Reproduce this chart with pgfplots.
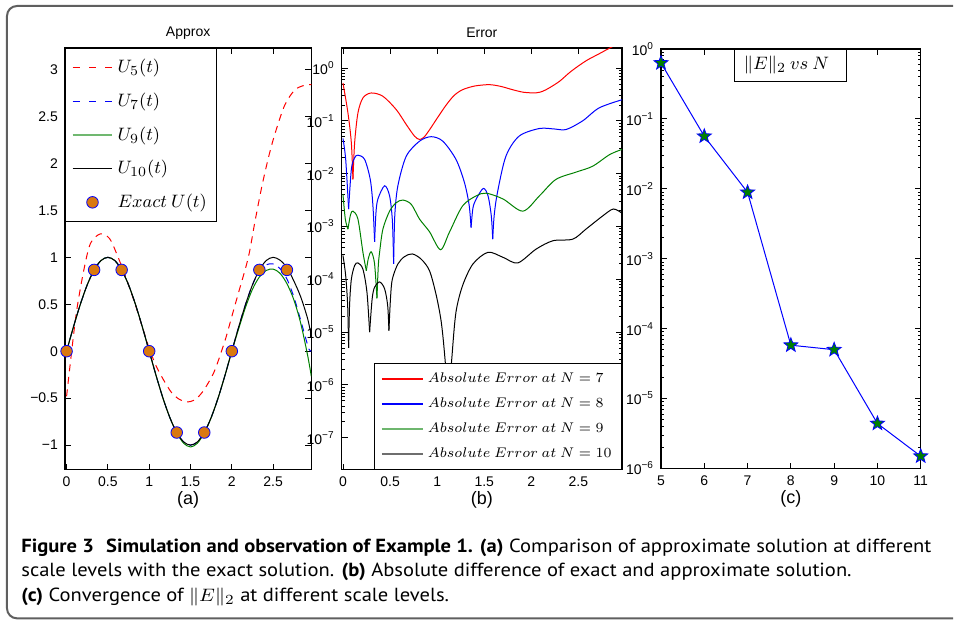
\documentclass[border=0pt]{standalone}
\usepackage{fontspec}
\setmainfont{Liberation Sans}
\newfontfamily\capfont{PT Sans}
\usepackage{graphicx}
\usepackage{pgfplots}
\pgfplotsset{compat=1.18}

\definecolor{mgreen}{rgb}{0,0.5,0}
\definecolor{lgreen}{RGB}{112,184,112}
\definecolor{lgreenb}{RGB}{110,182,110}
\definecolor{morange}{RGB}{217,120,15}
\definecolor{framegray}{RGB}{95,95,95}
% own shades for the legend samples
\definecolor{legredA}{RGB}{250,2,2}
\definecolor{legblueA}{RGB}{2,2,250}
\definecolor{legblackA}{RGB}{3,3,3}
\definecolor{legredB}{RGB}{252,1,1}
\definecolor{legblueB}{RGB}{1,1,252}
\definecolor{leggrayB}{RGB}{110,110,110}

% filled five-point star (MATLAB pentagram)
\pgfdeclareplotmark{pstar}{%
  \pgfpathmoveto{\pgfpointpolar{90}{\pgfplotmarksize}}%
  \pgfpathlineto{\pgfpointpolar{126}{0.42\pgfplotmarksize}}%
  \pgfpathlineto{\pgfpointpolar{162}{\pgfplotmarksize}}%
  \pgfpathlineto{\pgfpointpolar{198}{0.42\pgfplotmarksize}}%
  \pgfpathlineto{\pgfpointpolar{234}{\pgfplotmarksize}}%
  \pgfpathlineto{\pgfpointpolar{270}{0.42\pgfplotmarksize}}%
  \pgfpathlineto{\pgfpointpolar{306}{\pgfplotmarksize}}%
  \pgfpathlineto{\pgfpointpolar{342}{0.42\pgfplotmarksize}}%
  \pgfpathlineto{\pgfpointpolar{18}{\pgfplotmarksize}}%
  \pgfpathlineto{\pgfpointpolar{54}{0.42\pgfplotmarksize}}%
  \pgfpathclose
  \pgfusepathqfillstroke}

\pgfplotsset{
  mlab/.style={
    scale only axis,
    tick align=inside,
    major tick length=3pt, minor tick length=1.6pt,
    tick style={black, line width=0.4pt},
    axis line style={line width=0.6pt},
    tick label style={font=\fontsize{7}{8}\selectfont},
    every axis title/.style={at={(0.5,1)}, anchor=center, yshift=7.5pt, font=\fontsize{7}{8}\selectfont},
    every axis x label/.style={at={(0.5,0)}, anchor=center, yshift=-15pt, font=\fontsize{9}{10}\selectfont},
    clip mode=individual,
    legend cell align=left,
  },
  dashlegend/.style={legend image code/.code={\draw[##1] (0pt,0pt) -- (3.5pt,0pt) (8.25pt,0pt) -- (11.75pt,0pt) (16.5pt,0pt) -- (20pt,0pt);}},
}

\newsavebox\capbox
\newlength\capw

\begin{document}%
\sbox\capbox{\capfont\fontsize{9.5}{11}\selectfont\bfseries Figure 3\hspace{0.6em}Simulation and observation of Example 1. (a)\mdseries{} Comparison of approximate solution at different}%
\setlength\capw{\wd\capbox}%
\pgfmathsetmacro\capscale{455.5/\capw}%
\begin{tikzpicture}
\path (0,0) rectangle (477pt,310.5pt);
\draw[framegray, line width=1pt, rounded corners=5pt] (477pt,307.5pt) -- (3.5pt,307.5pt) -- (3.5pt,1pt) -- (477pt,1pt);

% ---------------- (a) Approx ----------------
\begin{axis}[mlab,
  at={(32.5pt,75.5pt)}, anchor=south west,
  width=123.35pt, height=211pt,
  xmin=-0.02, xmax=2.963, ymin=-1.26, ymax=3.23,
  xtick={0,0.5,1,1.5,2,2.5}, xticklabels={0,0.5,1,1.5,2,2.5},
  ytick={-1,-0.5,0,0.5,1,1.5,2,2.5,3},
  yticklabels={−1,−0.5,0,0.5,1,1.5,2,2.5,3},
  title={Approx}, xlabel={(a)},
  legend style={at={(0,1)}, anchor=north west, line width=0.5pt,
    font=\fontsize{9.4}{11}\selectfont, row sep=4.6pt, inner xsep=3pt, inner ysep=3.5pt},
  legend image code/.code={\draw[mark repeat=2,mark phase=2,#1] plot coordinates {(0pt,0pt) (10pt,0pt) (20pt,0pt)};},
]
\addplot[red, line width=0.5pt, dash pattern=on 3.5pt off 2.8pt, smooth, forget plot] coordinates {
 (0,-0.48) (0.05,-0.09) (0.12,0.42) (0.21,0.87) (0.29,1.15) (0.41,1.25) (0.52,1.2)
 (0.61,1.03) (0.72,0.78) (0.83,0.50) (0.92,0.25) (1.0,0.03) (1.08,-0.15) (1.17,-0.3)
 (1.27,-0.44) (1.36,-0.51) (1.45,-0.54) (1.55,-0.52) (1.64,-0.44) (1.72,-0.33)
 (1.80,-0.19) (1.92,0.12) (2.0,0.37) (2.08,0.62) (2.2,1.0) (2.28,1.38) (2.36,1.74)
 (2.44,2.05) (2.52,2.31) (2.64,2.62) (2.76,2.78) (2.87,2.83) (2.963,2.84)};
\addplot[blue, line width=0.5pt, dash pattern=on 3.5pt off 2.8pt, smooth, forget plot] coordinates {
 (0,0) (0.0833,0.259) (0.1667,0.5) (0.25,0.707) (0.3333,0.866) (0.4167,0.966) (0.5,1)
 (0.5833,0.966) (0.6667,0.866) (0.75,0.707) (0.8333,0.5) (0.9167,0.259) (1,0)
 (1.0833,-0.259) (1.1667,-0.5) (1.25,-0.707) (1.3333,-0.866) (1.4167,-0.966) (1.5,-1)
 (1.5833,-0.966) (1.6667,-0.866) (1.75,-0.707) (1.8333,-0.5) (1.9167,-0.259) (2,0)
 (2.0833,0.259) (2.1667,0.5) (2.25,0.707) (2.3333,0.85) (2.4167,0.92) (2.5,0.93)
 (2.5833,0.88) (2.6667,0.77) (2.75,0.58) (2.8333,0.33) (2.9,0.12) (2.935,0.02) (2.963,0.0)};
\addplot[mgreen, line width=0.5pt, smooth, forget plot] coordinates {
 (0,0) (0.0833,0.259) (0.1667,0.5) (0.25,0.707) (0.3333,0.866) (0.4167,0.966) (0.5,1)
 (0.5833,0.966) (0.6667,0.866) (0.75,0.707) (0.8333,0.5) (0.9167,0.259) (1,0)
 (1.0833,-0.259) (1.1667,-0.5) (1.25,-0.707) (1.3333,-0.87) (1.4167,-0.98) (1.5,-1.02)
 (1.5833,-0.98) (1.6667,-0.87) (1.75,-0.707) (1.8333,-0.5) (1.9167,-0.259) (2,0)
 (2.0833,0.24) (2.1667,0.47) (2.25,0.66) (2.3333,0.79) (2.4167,0.86) (2.5,0.875)
 (2.5833,0.83) (2.6667,0.72) (2.75,0.55) (2.8333,0.30) (2.9167,-0.04) (2.963,-0.27)};
\addplot[black, line width=0.5pt, smooth, forget plot] coordinates {
 (0,0) (0.0833,0.259) (0.1667,0.5) (0.25,0.707) (0.3333,0.866) (0.4167,0.966) (0.5,1)
 (0.5833,0.966) (0.6667,0.866) (0.75,0.707) (0.8333,0.5) (0.9167,0.259) (1,0)
 (1.0833,-0.259) (1.1667,-0.5) (1.25,-0.707) (1.3333,-0.866) (1.4167,-0.966) (1.5,-1)
 (1.5833,-0.966) (1.6667,-0.866) (1.75,-0.707) (1.8333,-0.5) (1.9167,-0.259) (2,0)
 (2.0833,0.259) (2.1667,0.5) (2.25,0.707) (2.3333,0.866) (2.4167,0.966) (2.5,1)
 (2.5833,0.97) (2.6667,0.89) (2.75,0.75) (2.8333,0.58) (2.9167,0.35) (2.963,0.16)};
\addplot[only marks, mark=*, mark size=2.9pt, mark options={fill=morange, draw=blue, line width=0.4pt}, forget plot] coordinates {
 (0,0) (0.3333,0.866) (0.6667,0.866) (1,0) (1.3333,-0.866) (1.6667,-0.866) (2,0) (2.3333,0.866) (2.6667,0.866)};
\addlegendimage{dashlegend, draw=legredA, line width=0.8pt}
\addlegendentry{$U_5(t)$}
\addlegendimage{dashlegend, draw=legblueA, line width=0.8pt}
\addlegendentry{$U_7(t)$}
\addlegendimage{draw=lgreen, line width=1.1pt}
\addlegendentry{$U_9(t)$}
\addlegendimage{draw=legblackA, line width=0.6pt}
\addlegendentry{$U_{10}(t)$}
\addlegendimage{only marks, mark=*, mark size=2.9pt, mark options={fill=morange, draw=blue, line width=0.4pt}}
\addlegendentry{$Exact\:U(t)$}
\end{axis}

% ---------------- (b) Error ----------------
\begin{axis}[mlab,
  at={(171pt,75.5pt)}, anchor=south west,
  width=140.35pt, height=211pt,
  ymode=log,
  xmin=-0.014, xmax=2.963, ymin=2.5e-8, ymax=2.4,
  xtick={0,0.5,1,1.5,2,2.5}, xticklabels={0,0.5,1,1.5,2,2.5},
  ytick={1e-7,1e-6,1e-5,1e-4,1e-3,1e-2,1e-1,1},
  yticklabels={10\textsuperscript{−7},10\textsuperscript{−6},10\textsuperscript{−5},10\textsuperscript{−4},10\textsuperscript{−3},10\textsuperscript{−2},10\textsuperscript{−1},10\textsuperscript{0}},
  title={Error}, xlabel={(b)},
  legend style={at={(1,0)}, anchor=south east, line width=0.5pt,
    font=\fontsize{7.2}{8.5}\selectfont, row sep=2.1pt, inner xsep=3pt, inner ysep=2.5pt},
  legend image code/.code={\draw[#1] (0pt,0pt) -- (20.5pt,0pt);},
]
% N = 7
\addplot[red, line width=0.5pt, smooth, forget plot] coordinates {
 (0,0.521) (0.053,0.141) (0.089,0.0385) (0.106,0.00776)};
\addplot[red, line width=0.5pt, smooth, forget plot] coordinates {
 (0.106,0.00776) (0.124,0.0385) (0.159,0.141) (0.212,0.272) (0.30,0.337) (0.424,0.292)
 (0.566,0.163) (0.672,0.0851) (0.76,0.0513) (0.813,0.0444) (0.86,0.049) (0.919,0.0676)
 (1.0,0.112) (1.096,0.1995) (1.18,0.302) (1.27,0.389) (1.4,0.457) (1.556,0.484)
 (1.68,0.447) (1.80,0.389) (1.92,0.347) (2.05,0.339) (2.12,0.363) (2.19,0.42)
 (2.30,0.562) (2.40,0.805) (2.50,1.096) (2.60,1.436) (2.72,1.862) (2.83,2.38) (2.963,3.162)};
% N = 8
\addplot[blue, line width=0.5pt, smooth, forget plot] coordinates {
 (0,0.0463) (0.029,0.0186) (0.06,0.00214)};
\addplot[blue, line width=0.5pt, smooth, forget plot] coordinates {
 (0.06,0.00214) (0.089,0.012) (0.124,0.02) (0.159,0.0224) (0.23,0.0186) (0.29,0.00776)
 (0.318,0.00251) (0.336,5.13e-4)};
\addplot[blue, line width=0.5pt, smooth, forget plot] coordinates {
 (0.336,5.13e-4) (0.35,0.00178) (0.371,0.00331) (0.442,0.00589) (0.495,0.0038)
 (0.525,0.00126) (0.538,1.95e-4)};
\addplot[blue, line width=0.5pt, smooth, forget plot] coordinates {
 (0.538,1.95e-4) (0.55,0.00158) (0.583,0.00589) (0.672,0.0214) (0.813,0.0412)
 (0.937,0.0501) (1.06,0.0412) (1.20,0.0186) (1.29,0.00676) (1.34,0.00251) (1.36,9.55e-4)};
\addplot[blue, line width=0.5pt, smooth, forget plot] coordinates {
 (1.36,9.55e-4) (1.38,0.00224) (1.415,0.00331) (1.49,0.00525) (1.54,0.0038)
 (1.575,0.00158) (1.59,5.75e-4)};
\addplot[blue, line width=0.5pt, smooth, forget plot] coordinates {
 (1.59,5.75e-4) (1.605,0.00158) (1.64,0.00437) (1.73,0.0214) (1.87,0.0513)
 (2.086,0.0716) (2.25,0.0700) (2.37,0.0686) (2.545,0.1) (2.72,0.176) (2.963,0.251)};
% N = 9
\addplot[mgreen, line width=0.5pt, smooth, forget plot] coordinates {
 (0,0.00407) (0.025,0.00138) (0.053,8.91e-4)};
\addplot[mgreen, line width=0.5pt, smooth, forget plot] coordinates {
 (0.053,8.91e-4) (0.08,0.00166) (0.106,0.00195) (0.159,0.00138) (0.212,3.24e-4) (0.248,1.45e-4)};
\addplot[mgreen, line width=0.5pt, smooth, forget plot] coordinates {
 (0.248,1.45e-4) (0.27,2.51e-4) (0.30,3.31e-4) (0.335,2.0e-4) (0.361,4.37e-5)};
\addplot[mgreen, line width=0.5pt, smooth, forget plot] coordinates {
 (0.361,4.37e-5) (0.375,1.78e-4) (0.389,3.24e-4) (0.424,8.91e-4) (0.495,0.00195)
 (0.566,0.00282) (0.636,0.00316) (0.725,0.00263) (0.813,0.00138) (0.919,7.94e-4)
 (1.036,3.63e-4) (1.13,7.76e-4) (1.27,0.00245) (1.415,0.0038) (1.52,0.00427)
 (1.70,0.00331) (1.91,0.00195) (2.086,0.0038) (2.26,0.00776) (2.475,0.0107)
 (2.65,0.0138) (2.83,0.0229) (2.963,0.0288)};
% N = 10
\addplot[black, line width=0.5pt, smooth, forget plot] coordinates {
 (0,2.82e-4) (0.029,1.17e-4) (0.05,3.16e-5) (0.06,5.01e-6)};
\addplot[black, line width=0.5pt, smooth, forget plot] coordinates {
 (0.06,5.01e-6) (0.07,3.16e-5) (0.089,1e-4) (0.124,1.82e-4) (0.159,2.04e-4)
 (0.212,1.55e-4) (0.255,5.62e-5) (0.283,1e-5)};
\addplot[black, line width=0.5pt, smooth, forget plot] coordinates {
 (0.283,1e-5) (0.31,4.27e-5) (0.336,7.08e-5) (0.389,8.91e-5) (0.442,6.61e-5)
 (0.475,3.16e-5) (0.488,1.07e-5)};
\addplot[black, line width=0.5pt, smooth, forget plot] coordinates {
 (0.488,1.07e-5) (0.505,4.47e-5) (0.524,1e-4) (0.583,1.95e-4) (0.654,2.69e-4)
 (0.736,3.02e-4) (0.831,2.4e-4) (0.919,1.45e-4) (0.99,5.01e-5) (1.043,1.58e-5)
 (1.078,3.98e-6) (1.10,1e-6) (1.115,3.16e-8) (1.12,1e-9)};
\addplot[black, line width=0.5pt, smooth, forget plot] coordinates {
 (1.12,1e-9) (1.125,3.16e-8) (1.14,1e-6) (1.16,3.98e-6) (1.20,2.4e-5) (1.27,7.59e-5)
 (1.38,1.95e-4) (1.54,3.24e-4) (1.70,2.6e-4) (1.856,2.04e-4) (2.05,3.72e-4)
 (2.23,5.37e-4) (2.44,5.75e-4) (2.58,8.91e-4) (2.757,0.00158) (2.87,0.00214) (2.963,0.00178)};
\addlegendimage{draw=legredB, line width=0.7pt}
\addlegendentry{$Absolute\:Error\:at\:N=7$}
\addlegendimage{draw=legblueB, line width=0.7pt}
\addlegendentry{$Absolute\:Error\:at\:N=8$}
\addlegendimage{draw=lgreenb, line width=0.8pt}
\addlegendentry{$Absolute\:Error\:at\:N=9$}
\addlegendimage{draw=leggrayB, line width=1pt}
\addlegendentry{$Absolute\:Error\:at\:N=10$}
\end{axis}

% ---------------- (c) ||E||_2 vs N ----------------
\begin{axis}[mlab,
  at={(330.85pt,76pt)}, anchor=south west,
  width=130pt, height=210pt,
  ymode=log,
  xmin=5, xmax=11, ymin=1e-6, ymax=1,
  xtick={5,6,7,8,9,10,11}, xticklabels={5,6,7,8,9,10,11},
  ytick={1e-6,1e-5,1e-4,1e-3,1e-2,1e-1,1},
  yticklabels={10\textsuperscript{−6},10\textsuperscript{−5},10\textsuperscript{−4},10\textsuperscript{−3},10\textsuperscript{−2},10\textsuperscript{−1},10\textsuperscript{0}},
  xlabel={(c)},
]
\addplot[blue, line width=0.5pt, mark=pstar, mark size=3.7pt, mark options={fill=mgreen, draw=blue, line width=0.4pt}] coordinates {
 (5,0.63) (6,0.0564) (7,0.0089) (8,5.8e-5) (9,5.0e-5) (10,4.4e-6) (11,1.5e-6)};
\node[draw=black, line width=0.5pt, fill=white, anchor=north, minimum height=16pt,
  text width=47pt, inner xsep=4.5pt, align=left, font=\fontsize{9.5}{11}\selectfont]
  at (rel axis cs:0.5,1) {$\|E\|_2\:vs\:N$};
\end{axis}

% ---------------- caption ----------------
\begin{scope}[every node/.style={anchor=base west, inner sep=0pt, font=\capfont\fontsize{9.5}{11}\selectfont}]
\node at (10.5pt,34pt) {\scalebox{\capscale}[1]{\bfseries Figure 3\hspace{0.6em}Simulation and observation of Example 1. (a)\mdseries{} Comparison of approximate solution at different}};
\node at (10.5pt,21.75pt) {\scalebox{\capscale}[1]{scale levels with the exact solution. \textbf{(b)} Absolute difference of exact and approximate solution.}};
\node at (10.5pt,9.5pt) {\scalebox{\capscale}[1]{\textbf{(c)} Convergence of $\|E\|_2$ at different scale levels.}};
\end{scope}
\end{tikzpicture}%
\end{document}
